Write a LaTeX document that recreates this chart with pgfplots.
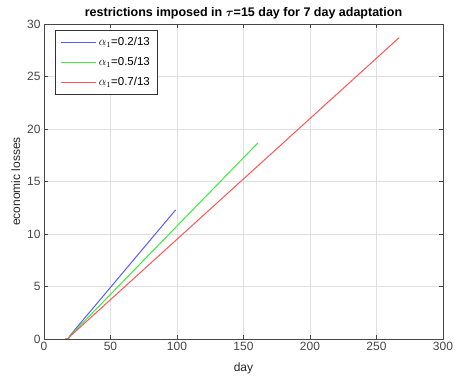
\documentclass[border=0pt]{standalone}
\usepackage{amsmath}
\usepackage{bm}
\usepackage{pgfplots}
\pgfplotsset{compat=1.18}
\usepackage{fontspec}
\setmainfont{Liberation Sans}
\definecolor{tickgray}{RGB}{70,70,70}
\definecolor{lblue}{RGB}{90,90,255}
\definecolor{lgreen}{RGB}{60,235,60}
\definecolor{lred}{RGB}{255,85,85}
\begin{document}
\begin{tikzpicture}
\begin{axis}[
  name=ax,
  scale only axis,
  width=399pt, height=315pt,
  xmin=0, xmax=300, ymin=0, ymax=30,
  xtick={0,50,...,300}, ytick={0,5,...,30},
  grid=major,
  major grid style={gray!25, line width=0.6pt},
  tick align=inside,
  major tick length=4pt,
  axis line style={tickgray, line width=0.8pt},
  tick style={tickgray},
  ticklabel style={font=\fontsize{12}{14}\selectfont, text=tickgray},
  /pgf/number format/assume math mode=true,
  xlabel={day}, ylabel={economic losses},
  label style={font=\fontsize{12}{14}\selectfont, text=black!85},
  xlabel style={yshift=-5pt},
  ylabel style={yshift=0pt},
  title={\bfseries restrictions imposed in $\bm{\tau}$=15 day for 7 day adaptation},
  title style={font=\fontsize{12.5}{14}\selectfont, yshift=-5pt},
  legend style={at={(0.028,0.98)}, anchor=north west, draw=black!80, font=\fontsize{11.5}{14}\selectfont, row sep=6pt, inner sep=5pt},
  legend cell align=left,
  legend image code/.code={\draw[#1] (0cm,0cm) -- (1.25cm,0cm);},
]
\addplot[lblue, line width=1pt] coordinates {(16,0) (18,0) (20,0.4) (99,12.3)};
\addlegendentry{$\alpha_1$=0.2/13}
\addplot[lgreen, line width=1pt] coordinates {(16,0) (18,0) (20,0.35) (161,18.7)};
\addlegendentry{$\alpha_1$=0.5/13}
\addplot[lred, line width=1pt] coordinates {(16,0) (18,0) (20,0.3) (267,28.7)};
\addlegendentry{$\alpha_1$=0.7/13}
\end{axis}
\pgfresetboundingbox
\path ([shift={(-44pt,-39pt)}]ax.south west) rectangle ([shift={(12pt,24pt)}]ax.north east);
\end{tikzpicture}
\end{document}
